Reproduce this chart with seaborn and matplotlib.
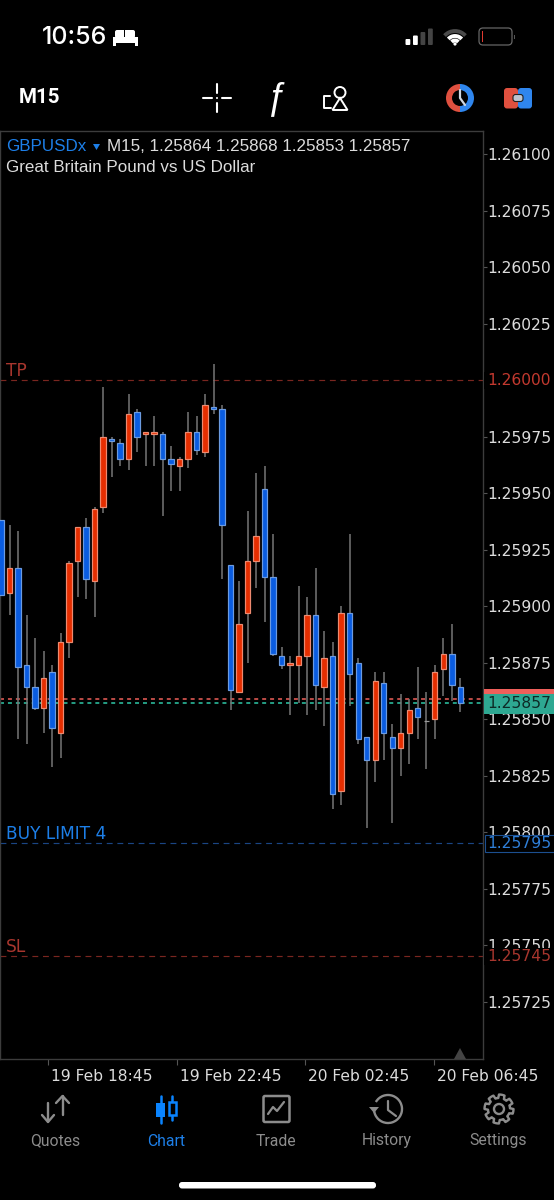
import numpy as np
import pandas as pd
import matplotlib
matplotlib.use("Agg")
import matplotlib.pyplot as plt
from matplotlib.patches import Rectangle, FancyBboxPatch, Circle, Polygon, Wedge, Arc
from matplotlib.transforms import blended_transform_factory, ScaledTranslation
import seaborn as sns

# GBPUSDx M15 candles, oldest first
opens = [1.25938,1.25906,1.25917,1.25874,1.25864,1.25855,1.25871,1.25844,1.25884,1.25920,1.25935,
         1.25911,1.25944,1.25974,1.25972,1.25965,1.25986,1.25976,1.25976,1.25976,1.25965,1.25962,
         1.25965,1.25977,1.25968,1.25988,1.25987,1.25918,1.25862,1.25897,1.25920,1.25952,1.25913,
         1.25878,1.25874,1.25874,1.25878,1.25896,1.25864,1.25878,1.25818,1.25897,1.25875,1.25842,
         1.25832,1.25866,1.25842,1.25837,1.25844,1.25855,1.25849,1.25850,1.25872,1.25879,1.25864]
highs = [1.25938,1.25936,1.25933,1.25896,1.25886,1.25880,1.25874,1.25888,1.25920,1.25935,1.25939,
         1.25944,1.25997,1.25975,1.25974,1.25994,1.25987,1.25977,1.25984,1.25977,1.25971,1.25966,
         1.25986,1.25984,1.25994,1.26007,1.25989,1.25918,1.25911,1.25942,1.25959,1.25962,1.25932,
         1.25882,1.25878,1.25909,1.25904,1.25917,1.25889,1.25884,1.25900,1.25932,1.25877,1.25842,
         1.25871,1.25871,1.25848,1.25861,1.25859,1.25873,1.25862,1.25874,1.25886,1.25892,1.25868]
lows = [1.25905,1.25896,1.25841,1.25839,1.25854,1.25844,1.25829,1.25833,1.25877,1.25904,1.25903,
        1.25895,1.25941,1.25957,1.25962,1.25960,1.25968,1.25962,1.25962,1.25940,1.25951,1.25951,
        1.25961,1.25967,1.25966,1.25985,1.25912,1.25854,1.25862,1.25875,1.25908,1.25893,1.25878,
        1.25872,1.25852,1.25857,1.25852,1.25854,1.25847,1.25810,1.25812,1.25856,1.25839,1.25802,
        1.25822,1.25832,1.25804,1.25825,1.25830,1.25841,1.25828,1.25841,1.25860,1.25858,1.25853]
closes = [1.25905,1.25917,1.25873,1.25864,1.25855,1.25868,1.25846,1.25884,1.25919,1.25935,1.25912,
          1.25943,1.25975,1.25973,1.25965,1.25985,1.25975,1.25977,1.25977,1.25965,1.25963,1.25965,
          1.25977,1.25969,1.25989,1.25987,1.25936,1.25863,1.25892,1.25920,1.25931,1.25913,1.25879,
          1.25874,1.25875,1.25878,1.25896,1.25865,1.25877,1.25817,1.25897,1.25870,1.25841,1.25832,
          1.25867,1.25844,1.25837,1.25844,1.25854,1.25851,1.25849,1.25871,1.25879,1.25865,1.25857]

price_ticks = [1.26100,1.26075,1.26050,1.26025,1.26000,1.25975,1.25950,1.25925,1.25900,
               1.25875,1.25850,1.25825,1.25800,1.25775,1.25750,1.25725]
time_ticks = [5.53, 20.65, 35.75, 50.9]
time_labels = ["19 Feb 18:45", "19 Feb 22:45", "20 Feb 02:45", "20 Feb 06:45"]

take_profit = 1.26000
buy_limit = 1.25795
stop_loss = 1.25745
ask_price = 1.25859
bid_price = 1.25857

nav_items = ["Quotes", "Chart", "Trade", "History", "Settings"]
nav_x = [55, 166, 276, 387, 498]

BLUE_BODY = "#0a5ce0"
RED_BODY = "#e62e00"
ACCENT = "#1d7fe8"
GREY = "#8c8c8c"
TEXT = "#dcdcdc"
SCALE_FONT = "DejaVu Sans"
SCALE_SIZE = 15.5

sns.set_theme(style="dark", rc={"axes.grid": False})
plt.rcParams["font.family"] = ["Liberation Sans", "DejaVu Sans"]

W, H = 554, 1200
fig = plt.figure(figsize=(W / 100, H / 100), dpi=100, facecolor="black")
px = 0.72


def box_rect(x0, y0, x1, y1):
    return [x0 / W, 1 - y1 / H, (x1 - x0) / W, (y1 - y0) / H]


ax = fig.add_axes(box_rect(0, 131, 483, 1059), facecolor="black")

candles = pd.DataFrame({"slot": np.arange(len(opens)), "o": opens, "h": highs, "l": lows, "c": closes})
candles["bottom"] = candles[["o", "c"]].min(axis=1)
candles["span"] = (candles["c"] - candles["o"]).abs()
candles["kind"] = np.select([candles.c > candles.o, candles.c < candles.o], ["bull", "bear"], "flat")

ax.vlines(candles.slot, candles.l, candles.h, color="#787878", lw=1.5 * px, zorder=2)

styles = {"bull": (RED_BODY, "#ee8a70"), "bear": (BLUE_BODY, "#6c9be0"), "flat": ("#9a9a9a", "#9a9a9a")}
for kind, (face, edge) in styles.items():
    chosen = candles.kind == kind
    sns.barplot(data=candles.assign(span=candles.span.where(chosen, 0.0)),
                x="slot", y="span", bottom=candles.bottom.where(chosen, 1.25).values,
                native_scale=True, width=0.64, color=face, saturation=1, errorbar=None,
                edgecolor=edge, linewidth=1.2 * px, ax=ax, zorder=3)

for level, color, dash, lw in [(take_profit, "#7a2620", (5, 4), 0.85), (buy_limit, "#1a4584", (5, 4), 0.85),
                               (stop_loss, "#7a2620", (5, 4), 0.85), (ask_price, "#f0605a", (2.6, 2.6), 1.1),
                               (bid_price, "#2ec8a8", (2.6, 2.6), 1.1)]:
    ax.axhline(level, color=color, lw=lw, ls=(0, dash), zorder=1)

ax.set_xlim(-0.118, 56.67)
ax.set_ylim(1.256996, 1.261102)
ax.set_xlabel("")
ax.set_ylabel("")
for side in ax.spines.values():
    side.set_color("#3c3c3c")
    side.set_linewidth(1.0)

ax.yaxis.tick_right()
ax.set_yticks(price_ticks)
ax.set_yticklabels([f"{p:.5f}" for p in price_ticks], family=SCALE_FONT, fontsize=SCALE_SIZE * px, color=TEXT)
ax.tick_params(axis="y", length=3, width=0.8, color="#555555", pad=0.2, right=True, left=False)
ax.set_xticks(time_ticks)
ax.set_xticklabels(time_labels, family=SCALE_FONT, fontsize=SCALE_SIZE * px, color=TEXT, ha="left")
ax.tick_params(axis="x", length=4, width=0.8, color="#555555", pad=3.5, bottom=True)
nudge = ScaledTranslation(3 / 100, 0, fig.dpi_scale_trans)
for lab in ax.get_xticklabels():
    lab.set_transform(lab.get_transform() + nudge)
    lab.set_clip_on(False)

# line captions on the left edge of the plot
edge_frame = blended_transform_factory(ax.transAxes, ax.transData)
for text, level, color in [("TP", take_profit, "#a8362e"), ("BUY LIMIT 4", buy_limit, ACCENT), ("SL", stop_loss, "#a8362e")]:
    ax.annotate(text, (6 / 483, level), xycoords=edge_frame, xytext=(0, 9.5 / 1.39), textcoords="offset points",
                fontsize=17 * px, color=color, family=SCALE_FONT, va="center", ha="left", zorder=5)

# everything outside the plot uses screen pixels
ui = fig.add_axes([0, 0, 1, 1], facecolor="none")
ui.set_xlim(0, W)
ui.set_ylim(H, 0)
ui.axis("off")


def label(x, y, s, size, color="white", ha="left", family="Liberation Sans", **kw):
    return ui.text(x, y, s, fontsize=size * px, color=color, ha=ha, va="center", family=family, **kw)


def price_y(p):
    return H - ax.transData.transform((0, p))[1]


fig.canvas.draw()

# price tags on the right-hand scale
ask_y, bid_y = price_y(ask_price), price_y(bid_price)
ui.add_patch(Rectangle((484, 689), 70, 6, color="#ef5f5a", lw=0, zorder=3))
ui.add_patch(Rectangle((484, bid_y - 9.5), 70, 20, color="#2ea892", lw=0, zorder=4))
label(487, bid_y + 0.5, f"{bid_price:.5f}", SCALE_SIZE, "#0d2a26", family=SCALE_FONT, zorder=5)

limit_y = price_y(buy_limit)
ui.add_patch(Rectangle((484.5, limit_y - 8.5), 72, 17, fc="black", ec="#1c4f90", lw=0.8, zorder=3))
label(487, limit_y, f"{buy_limit:.5f}", SCALE_SIZE, "#2f7fd8", family=SCALE_FONT, zorder=4)

stop_y = price_y(stop_loss)
ui.add_patch(Rectangle((484, stop_y - 8.5), 70, 17, fc="black", lw=0, zorder=3))
label(487, stop_y, f"{stop_loss:.5f}", SCALE_SIZE, "#a8362e", family=SCALE_FONT, zorder=4)

tp_y = price_y(take_profit)
ui.add_patch(Rectangle((484, tp_y - 8.5), 70, 17, fc="black", lw=0, zorder=3))
label(487, tp_y, f"{take_profit:.5f}", SCALE_SIZE, "#c2392f", family=SCALE_FONT, zorder=4)

# scroll marker on the bottom edge
ui.add_patch(Polygon([[454, 1059], [460, 1048], [466, 1059]], color="#444444", lw=0))

# chart heading
label(6, 146.5, "GBPUSDx", 17, ACCENT)
ui.add_patch(Polygon([[93, 144], [100, 144], [96.5, 150]], color=ACCENT, lw=0))
label(107, 146.5, "M15, 1.25864 1.25868 1.25853 1.25857", 17, TEXT)
label(6, 167, "Great Britain Pound vs US Dollar", 17, TEXT)

# status bar
label(42, 37, "10:56", 25, "white", family="Inter", fontweight="medium")
ui.add_patch(FancyBboxPatch((115, 30), 20, 8, boxstyle="round,pad=0,rounding_size=2", fc="white", lw=0))
ui.add_patch(Rectangle((113, 37), 25, 6, color="white", lw=0))
ui.add_patch(Rectangle((113, 43), 3, 2.5, color="white", lw=0))
ui.add_patch(Rectangle((135, 43), 3, 2.5, color="white", lw=0))
ui.add_patch(Rectangle((123.5, 30), 1.2, 7, color="black", lw=0))
for x, top, shade in [(405.5, 39, "white"), (413, 35.5, "white"), (420.5, 32, "#444444"), (428, 28.5, "#444444")]:
    ui.add_patch(FancyBboxPatch((x, top), 4.8, 45 - top, boxstyle="round,pad=0,rounding_size=1", fc=shade, lw=0))
for r, shade in [(14, "#4a4a4a"), (9, "white"), (4.5, "white")]:
    ui.add_patch(Arc((455, 45), 2 * r, 2 * r, theta1=222, theta2=318, color=shade, lw=2.8))
ui.add_patch(Circle((455, 44), 1.6, color="white", lw=0))
ui.add_patch(FancyBboxPatch((479, 28), 33, 17, boxstyle="round,pad=0,rounding_size=4", fc="none", ec="#666666", lw=0.9))
ui.add_patch(Rectangle((481.5, 31), 1.6, 11, color="#e03a30", lw=0))
ui.add_patch(Rectangle((514, 34.5), 1.2, 4.5, color="#555555", lw=0))

# toolbar
label(19, 97.5, "M15", 20.5, "white", family="Roboto", fontweight="bold")
cx, cy = 217, 98
ui.plot([cx - 14, cx - 5], [cy, cy], color="white", lw=1.5, solid_capstyle="round")
ui.plot([cx + 5, cx + 14], [cy, cy], color="white", lw=1.5, solid_capstyle="round")
ui.plot([cx, cx], [cy - 14, cy - 5], color="white", lw=1.5, solid_capstyle="round")
ui.plot([cx, cx], [cy + 5, cy + 14], color="white", lw=1.5, solid_capstyle="round")
ui.add_patch(Circle((cx, cy), 1, color="white", lw=0))
label(276, 98, "ƒ", 36, "white", ha="center", family="Liberation Sans", style="italic")
ui.add_patch(Circle((340, 92.5), 5.5, fc="none", ec="white", lw=1.4))
ui.add_patch(Polygon([[332.5, 110], [340, 98], [347.5, 110]], fc="none", ec="white", lw=1.4))
ui.plot([330, 324, 324, 331], [96, 96, 108, 108], color="white", lw=1.4)
ui.add_patch(Wedge((460, 98), 14, 90, 270, width=6, color="#e0503f", lw=0))
ui.add_patch(Wedge((460, 98), 14, -90, 90, width=6, color="#2f86ee", lw=0))
ui.plot([460, 460, 465], [90, 98, 105], color="#cfd6e0", lw=1.6)
ui.add_patch(FancyBboxPatch((504, 88), 14, 20.5, boxstyle="round,pad=0,rounding_size=3", fc="#e0503f", lw=0))
ui.add_patch(FancyBboxPatch((518, 88), 14, 20.5, boxstyle="round,pad=0,rounding_size=3", fc="#2f86ee", lw=0))
ui.add_patch(FancyBboxPatch((513, 94.5), 10, 7, boxstyle="round,pad=0,rounding_size=2.5", fc="#bcc4d0", ec="#202020", lw=0.8))

# bottom navigation
for name, x in zip(nav_items, nav_x):
    label(x, 1141, name, 15.8, ACCENT if name == "Chart" else GREY, ha="center", family="Roboto")

ic = 1109
ui.plot([48, 48], [ic - 6, ic + 13], color=GREY, lw=1.7)
ui.plot([42, 48, 54], [ic + 6, ic + 13, ic + 6], color=GREY, lw=1.7)
ui.plot([62.5, 62.5], [ic - 13, ic + 6], color=GREY, lw=1.7)
ui.plot([56, 62.5, 69], [ic - 6, ic - 13, ic - 6], color=GREY, lw=1.7)

ui.plot([160.5, 160.5], [ic - 13, ic + 14], color="#0a84ff", lw=1.8)
ui.add_patch(Rectangle((156, ic - 6), 9, 14, color="#0a84ff", lw=0))
ui.plot([172, 172], [ic - 13, ic + 11], color="#0a84ff", lw=1.8)
ui.add_patch(Rectangle((169, ic - 7), 6.5, 13, fc="black", ec="#0a84ff", lw=1.8, zorder=3))

ui.add_patch(FancyBboxPatch((263.5, 1096), 26, 26, boxstyle="round,pad=0,rounding_size=1.5", fc="none", ec=GREY, lw=1.8))
ui.plot([268, 273, 277, 284], [1114, 1107, 1111, 1102], color=GREY, lw=1.6)

ui.add_patch(Arc((388, ic), 28, 28, theta1=-150, theta2=175, color=GREY, lw=1.7))
ui.add_patch(Polygon([[369, ic - 2], [379, ic - 2], [374, ic + 4]], color=GREY, lw=0))
ui.plot([388, 388, 396], [ic - 8, ic + 1, ic + 7], color=GREY, lw=1.6)

# settings gear outline built from alternating radii
angles = np.linspace(0, 2 * np.pi, 96, endpoint=False) + np.pi / 16
radii = np.where(np.floor(angles / (np.pi / 4) * 2) % 2 == 0, 14.5, 11.0)
ui.add_patch(Polygon(np.c_[499 + radii * np.cos(angles), ic + radii * np.sin(angles)], fc="none", ec=GREY, lw=1.7, joinstyle="round"))
ui.add_patch(Circle((499, ic), 5, fc="none", ec=GREY, lw=1.7))

ui.add_patch(FancyBboxPatch((179, 1182), 197, 6.5, boxstyle="round,pad=0,rounding_size=3", fc="white", lw=0))

fig.savefig("out.png", dpi=100, facecolor="black")
